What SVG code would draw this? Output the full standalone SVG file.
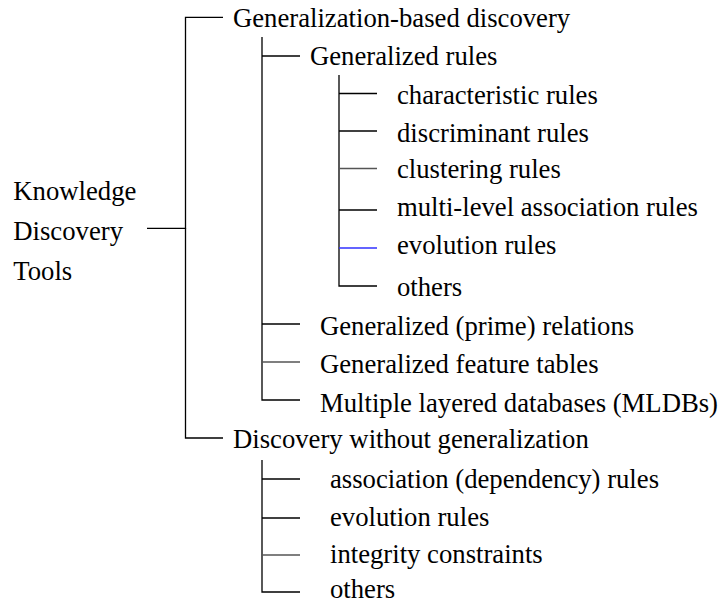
<svg xmlns="http://www.w3.org/2000/svg" width="722" height="605" viewBox="0 0 722 605">
<style>
text{font-family:'Liberation Serif','Times New Roman',serif;font-size:26.7px;fill:#000}
.c{fill:none;stroke:#000;stroke-width:1.3}
.g{stroke:#555}
.b{stroke:#3030ff}
</style>
<rect width="722" height="605" fill="#fff"/>
<g id="connectors">
<path class="c" d="M147,228.3H185.5V17.3H223"/>
<path class="c" d="M185.5,228.3V438H223"/>
<path class="c" d="M262,37V400H300"/>
<path class="c" d="M262,56H300"/>
<path class="c" d="M262,324H300"/>
<path class="c g" d="M262,362H300"/>
<path class="c" d="M339,75V286H377"/>
<path class="c" d="M339,93.5H377"/>
<path class="c" d="M339,131H377"/>
<path class="c g" d="M339,168.5H377"/>
<path class="c" d="M339,210H377"/>
<path class="c b" d="M339,248H377"/>
<path class="c" d="M262,460V592H300"/>
<path class="c" d="M262,479H300"/>
<path class="c" d="M262,518H300"/>
<path class="c g" d="M262,555H300"/>
</g>
<g font-family="Liberation Serif, serif">
<g id="root"><text x="13.3" y="200">Knowledge</text><text x="13.3" y="240">Discovery</text><text x="13.3" y="280">Tools</text></g>
<g id="gen-based"><text x="233" y="27">Generalization-based discovery</text></g>
<g id="gen-rules"><text x="310" y="65">Generalized rules</text></g>
<g id="characteristic"><text x="397" y="104">characteristic rules</text></g>
<g id="discriminant"><text x="397" y="142">discriminant rules</text></g>
<g id="clustering"><text x="397" y="178">clustering rules</text></g>
<g id="multilevel"><text x="397" y="216">multi-level association rules</text></g>
<g id="evolution1"><text x="397" y="254">evolution rules</text></g>
<g id="others1"><text x="397" y="296">others</text></g>
<g id="prime"><text x="320" y="335">Generalized (prime) relations</text></g>
<g id="feature"><text x="320" y="373">Generalized feature tables</text></g>
<g id="mldb"><text x="320" y="412">Multiple layered databases (MLDBs)</text></g>
<g id="without"><text x="233" y="448">Discovery without generalization</text></g>
<g id="association"><text x="330" y="488">association (dependency) rules</text></g>
<g id="evolution2"><text x="330" y="526">evolution rules</text></g>
<g id="integrity"><text x="330" y="563">integrity constraints</text></g>
<g id="others2"><text x="330" y="598">others</text></g>
</g>
</svg>
